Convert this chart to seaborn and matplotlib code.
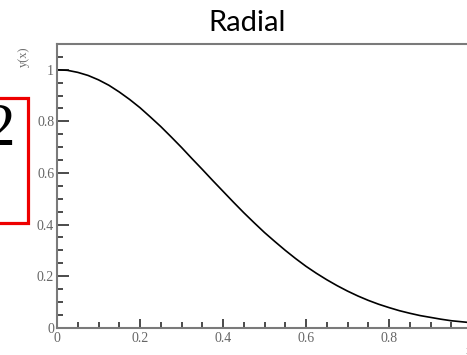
import matplotlib
matplotlib.use("Agg")
import matplotlib.pyplot as plt
from matplotlib.patches import Rectangle
from matplotlib.ticker import MultipleLocator, FixedLocator
import seaborn as sns
import pandas as pd

# Radial profile y(x)
x_vals = [0.000, 0.025, 0.050, 0.075, 0.100, 0.125, 0.150, 0.175, 0.200, 0.225,
          0.250, 0.275, 0.300, 0.325, 0.350, 0.375, 0.400, 0.425, 0.450, 0.475,
          0.500, 0.525, 0.550, 0.575, 0.600, 0.625, 0.650, 0.675, 0.700, 0.725,
          0.750, 0.775, 0.800, 0.825, 0.850, 0.875, 0.900, 0.925, 0.950, 0.975,
          1.000]
y_vals = [1.000, 0.998, 0.990, 0.978, 0.961, 0.940, 0.914, 0.885, 0.853, 0.817,
          0.780, 0.740, 0.699, 0.656, 0.614, 0.571, 0.529, 0.487, 0.446, 0.407,
          0.369, 0.334, 0.300, 0.268, 0.238, 0.211, 0.186, 0.163, 0.142, 0.123,
          0.106, 0.091, 0.078, 0.066, 0.056, 0.047, 0.040, 0.033, 0.027, 0.023,
          0.019]

x_ticks = [0, 0.2, 0.4, 0.6, 0.8]
x_tick_labels = ["0", "0.2", "0.4", "0.6", "0.8"]
y_ticks = [0, 0.2, 0.4, 0.6, 0.8, 1.0]
y_tick_labels = ["0", "0.2", "0.4", "0.6", "0.8", "1"]

title_text = "Radial"
y_label = "y(x)"
x_label = "x"
box_text = "2"

sns.set_style("ticks")
plt.rcParams["font.family"] = ["DejaVu Sans"]

W, H = 467, 355
fig = plt.figure(figsize=(W / 100, H / 100), dpi=100)


def fx(px):
    return px / W


def fy(py):
    return 1 - py / H


ax = fig.add_axes([fx(57), fy(327.7), fx(472) - fx(57), fy(44) - fy(327.7)])

df = pd.DataFrame({"x": x_vals, "y": y_vals})
sns.lineplot(data=df, x="x", y="y", ax=ax, color="black", linewidth=1.2)

ax.set_xlim(0, 1.0)
ax.set_ylim(0, 1.1)
ax.set_xlabel("")
ax.set_ylabel("")

spine_gray = "#7a7a7a"
for side in ("left", "bottom", "top"):
    ax.spines[side].set_color(spine_gray)
    ax.spines[side].set_linewidth(1.5)
ax.spines["right"].set_visible(False)

ax.xaxis.set_major_locator(FixedLocator(x_ticks))
ax.set_xticklabels(x_tick_labels)
ax.yaxis.set_major_locator(FixedLocator(y_ticks))
ax.set_yticklabels(y_tick_labels)
ax.xaxis.set_minor_locator(MultipleLocator(0.05))
ax.yaxis.set_minor_locator(MultipleLocator(0.05))

for lab in ax.get_xticklabels() + ax.get_yticklabels():
    lab.set_fontfamily("Liberation Serif")
    lab.set_fontsize(10)
    lab.set_color("#666666")

ax.tick_params(axis="both", which="both", direction="in", color="#1a1a1a",
               width=1.1, top=False, right=False)
ax.tick_params(axis="y", which="major", length=8.5, pad=2)
ax.tick_params(axis="y", which="minor", length=4.3)
ax.tick_params(axis="x", which="major", length=6.5, pad=3)
ax.tick_params(axis="x", which="minor", length=4.0)

# Title
fig.text(fx(247), fy(23), title_text, ha="center", va="center",
         fontsize=21, family="Lato", color="black")

# Axis titles
fig.text(fx(24), fy(57), y_label, rotation=90, ha="center", va="center",
         fontsize=9, family="Liberation Serif", color="#6e6e6e")
fig.text(fx(472), fy(351), x_label, ha="right", va="center",
         fontsize=9, family="Liberation Serif", color="#6e6e6e")

# Red framed annotation on the left
fig.add_artist(Rectangle((fx(-20), fy(222.5)), fx(48), fy(98) - fy(222.5),
                         transform=fig.transFigure, fill=False,
                         edgecolor="#ee0000", linewidth=2.3))
fig.text(fx(15), fy(145), box_text, ha="right", va="baseline",
         fontsize=44, family="Liberation Serif", color="black")

fig.savefig("out.png", dpi=100)
